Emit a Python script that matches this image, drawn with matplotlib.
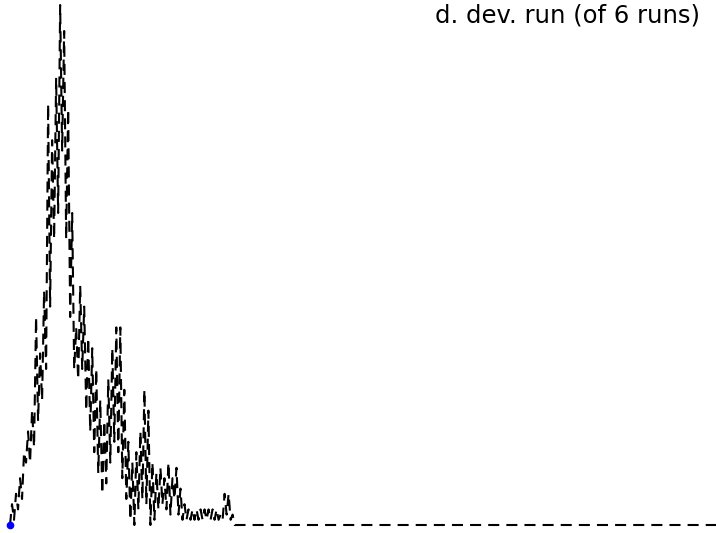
import numpy as np
import matplotlib
matplotlib.use("Agg")
import matplotlib.pyplot as plt

# Valeurs (deviation par pas, run d)
deviation = [
    0, 4, 1, 6, 3, 9, 5, 14, 12, 18,
    12, 22, 15, 40, 20, 33, 24, 45, 30, 81,
    42, 74, 55, 86, 60, 100, 72, 95, 55, 80,
    40, 60, 30, 38, 28, 46, 30, 42, 22, 36,
    18, 34, 14, 30, 10, 24, 6, 20, 8, 28,
    12, 34, 16, 38, 14, 38, 9, 26, 5, 16,
    1, 12, 0, 14, 3, 18, 5, 26, 4, 22,
    0, 12, 1, 10, 3, 11, 4, 9, 3, 12,
    2, 9, 5, 11, 2, 7, 1, 4, 1, 3,
    1, 3, 1, 3, 1, 3, 1, 3, 1, 3,
    1, 3, 1, 3, 1, 2, 1, 6, 2, 6,
    1, 2, 0,
]
# dernier pas du run (la deviation reste a zero jusque la)
last_step = 352
last_value = 0

title = "d. dev. run (of 6 runs)"

steps = list(range(len(deviation))) + [last_step]
values = deviation + [last_value]

fig = plt.figure(figsize=(7.16, 5.33), dpi=100)
ax = fig.add_axes([10 / 716, 8 / 533, 706 / 716, 520 / 533])

# courbe en tirets
ax.plot(steps, values, color="black", linewidth=1.5, linestyle=(0, (5.3, 3.4)),
        clip_on=False)
# point de depart
ax.plot(steps[0], values[0], "o", color="blue", markersize=4.5, clip_on=False)

ax.set_xlim(0, last_step)
ax.set_ylim(0, max(deviation))
ax.axis("off")

fig.text(700 / 716, 1 - 16 / 533, title, ha="right", va="center", fontsize=17.5)

fig.savefig("out.png", dpi=100)
